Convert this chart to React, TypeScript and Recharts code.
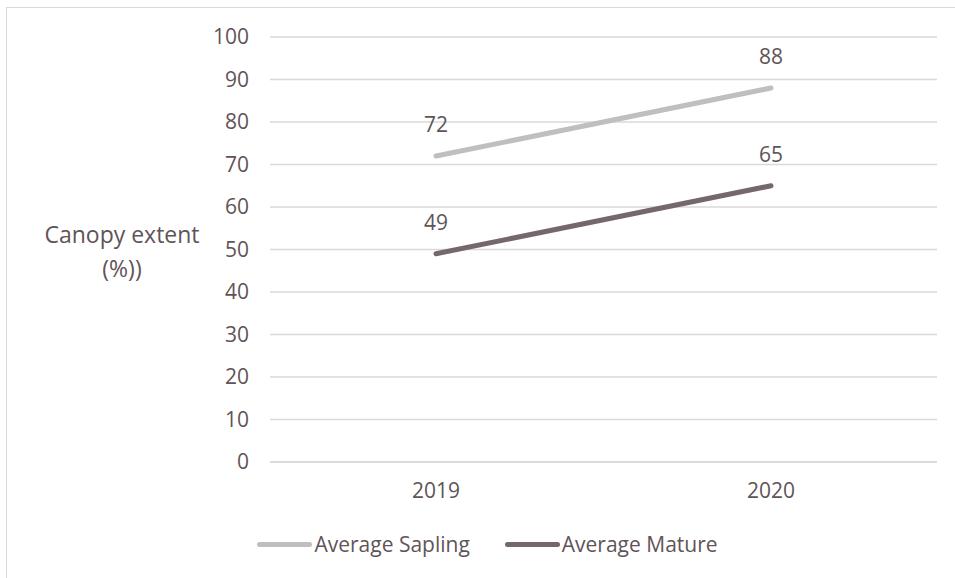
import React from 'react';
import { LineChart, Line, XAxis, YAxis, CartesianGrid, LabelList, Label } from 'recharts';

const years = ['2019', '2020'];
const saplingValues = [72, 88];
const matureValues = [49, 65];
const yTicks = [0, 10, 20, 30, 40, 50, 60, 70, 80, 90, 100];

const series = [
  { key: 'sapling', name: 'Average Sapling', color: '#bfbfbf' },
  { key: 'mature', name: 'Average Mature', color: '#75686c' },
];

const data = years.map((year, i) => ({
  year,
  sapling: saplingValues[i],
  mature: matureValues[i],
}));

const FONT = '"Open Sans", sans-serif';
const TEXT = '#5f5458';
const GRID = '#d9d9d9';

const AxisTitle = (props: any) => {
  const { viewBox } = props;
  const cx = viewBox.x + 122;
  const cy = viewBox.y + viewBox.height / 2;
  return (
    <text x={cx} y={cy} textAnchor="middle" fill={TEXT} fontSize={23} fontFamily={FONT}>
      <tspan x={cx} dy={-7}>Canopy extent</tspan>
      <tspan x={cx} dy={34}>(%))</tspan>
    </text>
  );
};

const LegendBox = () => (
  <div
    style={{
      position: 'absolute',
      left: 10,
      width: 955,
      top: 530,
      display: 'flex',
      justifyContent: 'center',
      gap: 35,
      fontFamily: FONT,
      fontSize: 21,
      color: TEXT,
    }}
  >
    {series.map(s => (
      <div key={s.key} style={{ display: 'flex', alignItems: 'center' }}>
        <div style={{ width: 55, height: 5, borderRadius: 3, background: s.color, marginRight: 2 }} />
        <span>{s.name}</span>
      </div>
    ))}
  </div>
);

export default function App() {
  return (
    <div style={{ position: 'absolute', left: 0, top: 0, width: 955, height: 578, background: '#fff', overflow: 'hidden' }}>
      <div style={{ position: 'absolute', left: 6, top: 7, right: -10, bottom: -10, borderTop: `1px solid ${GRID}`, borderLeft: `1px solid ${GRID}` }} />
      <div style={{ position: 'absolute', left: 0, top: 0 }}>
        <LineChart width={955} height={578} data={data} margin={{ top: 37, right: 18, bottom: 0, left: 0 }}>
          <CartesianGrid vertical={false} stroke={GRID} strokeWidth={1.3} />
          <XAxis
            dataKey="year"
            padding={{ left: 166, right: 166 }}
            axisLine={{ stroke: GRID, strokeWidth: 1.3 }}
            tickLine={false}
            tickSize={0}
            tickMargin={21}
            height={116}
            tick={{ fill: TEXT, fontSize: 21, fontFamily: FONT }}
          />
          <YAxis
            domain={[0, 100]}
            ticks={yTicks}
            axisLine={false}
            tickLine={false}
            tickSize={0}
            tickMargin={21}
            width={270}
            tick={{ fill: TEXT, fontSize: 21, fontFamily: FONT }}
          >
            <Label content={AxisTitle} />
          </YAxis>
          {series.map(s => (
            <Line
              key={s.key}
              dataKey={s.key}
              name={s.name}
              stroke={s.color}
              strokeWidth={5}
              strokeLinecap="round"
              dot={false}
              activeDot={false}
              isAnimationActive={false}
            >
              <LabelList dataKey={s.key} position="top" offset={24} fill={TEXT} fontSize={21} fontFamily={FONT} />
            </Line>
          ))}
        </LineChart>
      </div>
      <LegendBox />
    </div>
  );
}
